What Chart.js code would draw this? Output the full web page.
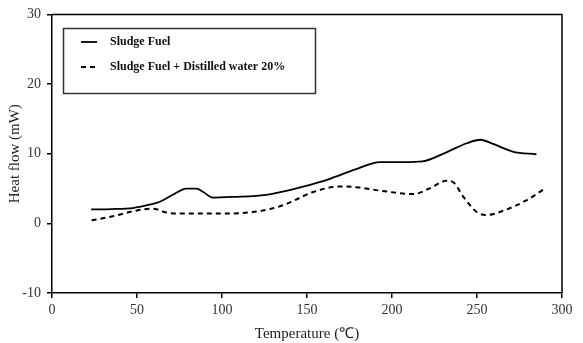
<!DOCTYPE html>
<html>
<head>
<meta charset="utf-8">
<script src="https://cdn.jsdelivr.net/npm/chart.js@4.4.1/dist/chart.umd.min.js"></script>
<style>
  html, body { margin: 0; padding: 0; background: #fff; }
  #wrap { width: 583px; height: 343px; }
</style>
</head>
<body>
<div id="wrap"><canvas id="chartDsc" width="583" height="343"></canvas></div>
<script>
// Sludge Fuel (solid)
const tempFuel = [23, 35, 47.6, 57.6, 63.5, 71, 79, 85, 89, 94.5, 106.5, 126, 142, 155.7, 163.5, 178, 193, 206.5, 218, 232, 244, 252, 259.5, 271, 285];
const heatFuel = [2.0, 2.05, 2.2, 2.7, 3.1, 4.1, 5.0, 5.0, 4.5, 3.7, 3.8, 4.1, 4.9, 5.8, 6.4, 7.7, 8.8, 8.8, 8.9, 10.2, 11.5, 12.0, 11.4, 10.3, 9.9];

// Sludge Fuel + Distilled water 20% (dashed)
const tempWater = [23.3, 38, 50, 59.6, 66.5, 73, 97, 120.4, 136, 153.7, 169.4, 179, 193, 212.5, 222, 232, 236, 242, 250, 255.7, 267.5, 279, 290.6];
const heatWater = [0.43, 1.14, 1.86, 2.1, 1.6, 1.4, 1.4, 1.7, 2.6, 4.5, 5.3, 5.2, 4.7, 4.2, 5.0, 6.1, 5.9, 3.8, 1.6, 1.2, 2.0, 3.3, 5.1];

const seriesLabels = ['Sludge Fuel', 'Sludge Fuel + Distilled water 20%'];
const xTicks = [0, 50, 100, 150, 200, 250, 300];
const yTicks = [-10, 0, 10, 20, 30];

function toPoints(xs, ys) {
    return xs.map((x, i) => ({ x: x, y: ys[i] }));
}

// Cadre + légende dessinés à la main (la légende est dans la zone du graphique)
const framePlugin = {
    id: 'framePlugin',
    afterDraw(chart) {
        const ctx = chart.ctx;
        const a = chart.chartArea;
        ctx.save();
        ctx.strokeStyle = '#000';
        ctx.lineWidth = 1.5;
        ctx.beginPath();
        ctx.moveTo(a.left, a.top);
        ctx.lineTo(a.right, a.top);
        ctx.lineTo(a.right, a.bottom);
        ctx.stroke();

        // boîte de légende
        ctx.strokeStyle = '#333';
        ctx.lineWidth = 1.5;
        ctx.strokeRect(63.5, 28.5, 252, 65);

        ctx.font = 'bold 12px "Liberation Serif", serif';
        ctx.fillStyle = '#111';
        ctx.textBaseline = 'middle';
        const rows = [42, 67];
        chart.data.datasets.forEach((ds, i) => {
            const y = rows[i];
            ctx.strokeStyle = '#000';
            ctx.lineWidth = 1.8;
            ctx.setLineDash(ds.borderDash || []);
            ctx.beginPath();
            ctx.moveTo(81, y);
            ctx.lineTo(97, y);
            ctx.stroke();
            ctx.setLineDash([]);
            ctx.fillText(ds.label, 110, y);
        });
        ctx.restore();
    }
};

const tickFont = { family: '"Liberation Serif", serif', size: 14 };
const titleFont = { family: '"Liberation Serif", serif', size: 15 };

new Chart(document.getElementById('chartDsc'), {
    type: 'scatter',
    data: {
        datasets: [{
            label: seriesLabels[0],
            data: toPoints(tempFuel, heatFuel),
            showLine: true,
            borderColor: '#000',
            borderWidth: 1.8,
            pointRadius: 0,
            tension: 0.4,
            cubicInterpolationMode: 'monotone'
        }, {
            label: seriesLabels[1],
            data: toPoints(tempWater, heatWater),
            showLine: true,
            borderColor: '#000',
            borderWidth: 2,
            borderDash: [5, 4],
            pointRadius: 0,
            tension: 0.4,
            cubicInterpolationMode: 'monotone'
        }]
    },
    options: {
        responsive: false,
        animation: false,
        layout: { padding: { left: 0, top: 13, right: 21, bottom: 0 } },
        plugins: {
            legend: { display: false },
            tooltip: { enabled: false }
        },
        scales: {
            x: {
                type: 'linear',
                min: 0,
                max: 300,
                afterBuildTicks: s => { s.ticks = xTicks.map(v => ({ value: v })); },
                afterFit: s => { s.height = 50; },
                grid: { drawOnChartArea: false, drawTicks: true, tickLength: 5, color: '#000', lineWidth: 1.5 },
                border: { color: '#000', width: 1.5 },
                ticks: { color: '#333', font: tickFont, padding: 4, maxRotation: 0 },
                title: { display: true, text: 'Temperature (℃)', color: '#222', font: titleFont, padding: { top: 0, bottom: 0 } }
            },
            y: {
                min: -10,
                max: 30,
                afterBuildTicks: s => { s.ticks = yTicks.map(v => ({ value: v })); },
                afterFit: s => { s.width = 52; },
                grid: { drawOnChartArea: false, drawTicks: true, tickLength: 5, color: '#000', lineWidth: 1.5 },
                border: { color: '#000', width: 1.5 },
                ticks: { color: '#333', font: tickFont, padding: 6 },
                title: { display: true, text: 'Heat flow (mW)', color: '#222', font: titleFont, padding: { top: 6, bottom: 0 } }
            }
        }
    },
    plugins: [framePlugin]
});
</script>
</body>
</html>
